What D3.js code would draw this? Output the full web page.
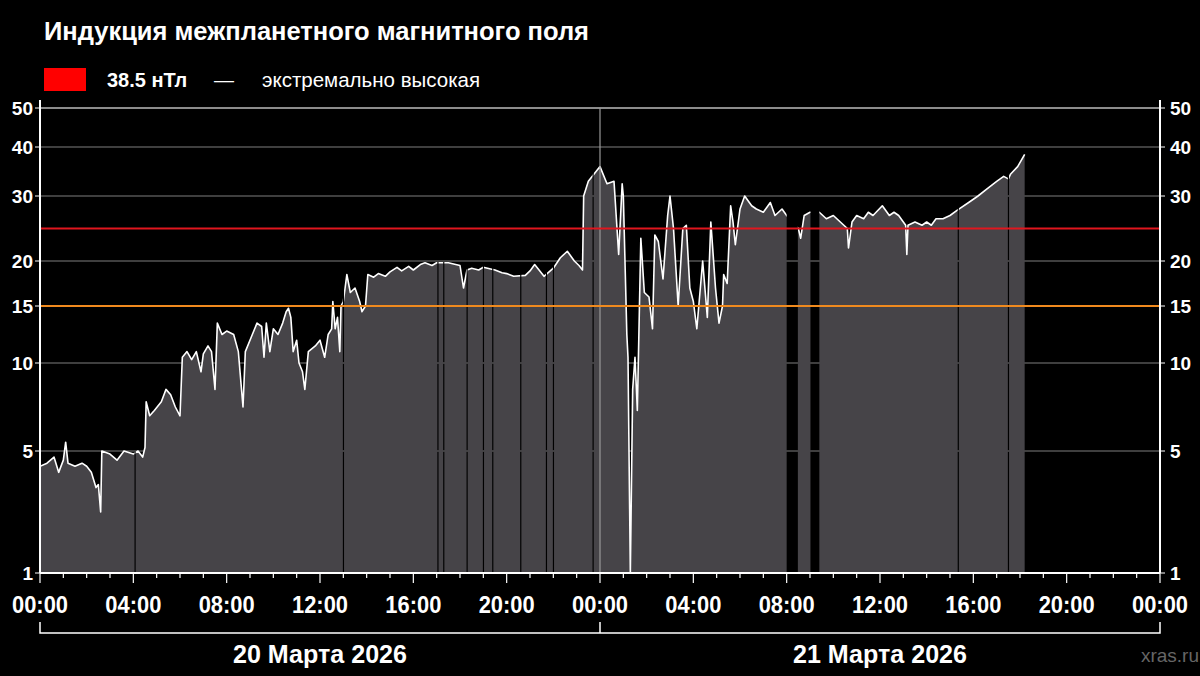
<!DOCTYPE html>
<html><head><meta charset="utf-8">
<script src="https://cdn.jsdelivr.net/npm/d3@7"></script>
<style>body{margin:0;background:#000;}svg{display:block}</style>
</head><body><svg id="c" width="1200" height="676"></svg>
<script>
// [hour since 20 March 00:00, nT]
const day1 = [[0,4.5],[0.3,4.6],[0.6,4.8],[0.8,4.3],[1.0,4.7],[1.1,5.5],[1.2,4.6],[1.5,4.5],[1.8,4.6],[2.0,4.5],[2.2,4.3],[2.4,3.8],[2.5,3.9],[2.6,3.0],[2.65,5.0],[3.0,4.9],[3.3,4.7],[3.6,5.0],[4.0,4.9],[4.2,5.0],[4.4,4.8],[4.5,5.2],[4.55,7.8],[4.7,7.0],[4.9,7.3],[5.2,7.8],[5.4,8.5],[5.6,8.2],[5.8,7.5],[6.0,7.0],[6.1,10.5],[6.3,11.0],[6.5,10.3],[6.7,11.0],[6.9,9.5],[7.0,10.8],[7.2,11.5],[7.35,11.0],[7.5,8.5],[7.6,13.5],[7.8,12.5],[8.0,12.8],[8.3,12.5],[8.5,11.0],[8.7,7.5],[8.8,11.0],[9.1,12.5],[9.3,13.5],[9.5,13.2],[9.6,10.5],[9.7,13.5],[9.85,11.0],[10.0,13.0],[10.2,12.5],[10.4,13.5],[10.55,14.5],[10.65,14.8],[10.75,14.0],[10.85,11.0],[11.0,12.0],[11.1,10.0],[11.25,9.5],[11.35,8.5],[11.5,11.0],[11.8,11.5],[12.0,12.0],[12.2,10.5],[12.35,12.5],[12.5,13.0],[12.55,15.5],[12.65,13.0],[12.75,14.0],[12.85,11.0],[12.9,15.0],[13.0,15.5],[13.15,18.5],[13.3,16.5],[13.5,17.0],[13.7,15.5],[13.8,14.5],[13.95,15.0],[14.05,18.5],[14.3,18.2],[14.5,18.6],[14.8,18.3],[15.0,18.8],[15.3,19.3],[15.5,18.9],[15.8,19.4],[16.0,19.0],[16.3,19.6],[16.5,19.8],[16.8,19.5],[17.0,19.8],[17.5,19.8],[18.0,19.5],[18.15,17.0],[18.3,19.0],[18.5,19.2],[18.8,19.0],[19.0,19.3],[19.5,19.0],[19.8,18.7],[20.0,18.6],[20.3,18.3],[20.8,18.4],[21.0,18.9],[21.2,19.6],[21.6,18.3],[22.0,19.2],[22.3,20.5],[22.6,21.5],[22.9,20.0],[23.1,19.5],[23.25,19.0]];
const day2 = [[23.3,30.0],[23.5,33.0],[24.0,36.0],[24.3,32.5],[24.6,33.0],[24.8,21.0],[24.95,32.5],[25.0,30.0],[25.1,17.0],[25.15,12.5],[25.2,10.5],[25.3,1.0],[25.4,8.5],[25.5,10.5],[25.6,7.3],[25.75,23.5],[25.9,16.5],[26.1,16.0],[26.25,13.0],[26.35,24.0],[26.5,23.0],[26.7,18.0],[26.9,27.0],[27.0,30.0],[27.15,25.0],[27.35,15.0],[27.55,25.0],[27.7,25.5],[27.85,17.0],[28.0,15.5],[28.15,13.0],[28.4,20.0],[28.6,14.0],[28.75,26.0],[28.95,17.0],[29.1,13.5],[29.25,15.0],[29.3,18.5],[29.45,17.5],[29.6,28.5],[29.7,26.0],[29.8,22.5],[30.0,28.0],[30.2,30.0],[30.5,28.5],[30.7,28.0],[31.0,27.5],[31.3,29.0],[31.5,27.0],[31.8,28.0],[32.0,27.0],[32.5,25.0],[32.6,23.5],[32.75,27.0],[33.0,27.5],[33.4,27.5],[33.7,26.5],[34.0,27.0],[34.3,26.0],[34.6,25.0],[34.65,22.0],[34.8,26.0],[35.0,27.0],[35.3,26.5],[35.5,27.5],[35.7,27.0],[36.1,28.5],[36.4,27.0],[36.6,27.5],[36.8,27.0],[37.1,25.5],[37.15,21.0],[37.2,25.5],[37.5,26.0],[37.8,25.5],[38.0,26.0],[38.2,25.5],[38.4,26.5],[38.7,26.5],[39.0,27.0],[39.3,27.8],[39.8,29.0],[40.2,30.0],[40.6,31.5],[41.0,33.0],[41.3,34.0],[41.5,33.5],[41.6,34.5],[41.9,36.0],[42.2,38.5]];
const gaps = [[4.05,4.1],[12.98,13.03],[17.03,17.08],[17.28,17.33],[18.28,18.33],[18.98,19.03],[19.38,19.43],[20.58,20.63],[21.68,21.73],[21.98,22.03],[23.68,23.73],[32.0,32.48],[33.02,33.4],[39.33,39.38],[41.48,41.53]];
const yTicks = [1,5,10,15,20,30,40,50];
const yPix = [573,451,363,306,261,196,147,108];
const gridVals = [5,10,20,30,40,50];
const xTickLabels = ["00:00","04:00","08:00","12:00","16:00","20:00","00:00","04:00","08:00","12:00","16:00","20:00","00:00"];
const dayLabels = ["20 Марта 2026","21 Марта 2026"];
const thresholds = [{v:25,c:"#e0161e"},{v:15,c:"#f08a1e"}];

const svg = d3.select("#c");
const L=40,R=1160,T=108,B=573;
const x = d3.scaleLinear().domain([0,48]).range([L,R]);
const y = d3.scaleLinear().domain(yTicks).range(yPix);
const data = day1.concat(day2).map(d=>({h:d[0],v:d[1]}));

svg.selectAll(".g").data(gridVals).enter().append("line")
  .attr("x1",L).attr("x2",R).attr("y1",d=>y(d)).attr("y2",d=>y(d))
  .attr("stroke",d=>d===50?"#bbb":"#555").attr("stroke-width",1.5);

const segs=[];let s=0;
gaps.forEach(g=>{segs.push([s,g[0]]);s=g[1];});segs.push([s,48]);
const clip=svg.append("clipPath").attr("id","cl");
segs.forEach(sg=>clip.append("rect").attr("x",x(sg[0])).attr("width",x(sg[1])-x(sg[0])).attr("y",0).attr("height",676));
const gp=svg.append("g").attr("clip-path","url(#cl)");
gp.append("path").datum(data).attr("fill","#464448")
  .attr("d",d3.area().x(d=>x(d.h)).y0(B).y1(d=>y(d.v)));
gp.append("path").datum(data).attr("fill","none").attr("stroke","#fff").attr("stroke-width",1.6)
  .attr("stroke-linejoin","round").attr("d",d3.line().x(d=>x(d.h)).y(d=>y(d.v)));

svg.append("line").attr("x1",x(24)).attr("x2",x(24)).attr("y1",T).attr("y2",B).attr("stroke","#999").attr("stroke-width",1.2);
thresholds.forEach(t=>svg.append("line").attr("x1",L).attr("x2",R).attr("y1",y(t.v)).attr("y2",y(t.v)).attr("stroke",t.c).attr("stroke-width",1.8));

const fontB="'Liberation Sans',Arial,sans-serif";
svg.append("line").attr("x1",L).attr("x2",L).attr("y1",T-8).attr("y2",B).attr("stroke","#fff").attr("stroke-width",2);
svg.append("line").attr("x1",R).attr("x2",R).attr("y1",T-8).attr("y2",B).attr("stroke","#fff").attr("stroke-width",2);
svg.append("line").attr("x1",L).attr("x2",R).attr("y1",B).attr("y2",B).attr("stroke","#fff").attr("stroke-width",2);
yTicks.forEach(v=>{
  svg.append("line").attr("x1",L-5).attr("x2",L).attr("y1",y(v)).attr("y2",y(v)).attr("stroke","#fff");
  svg.append("line").attr("x1",R).attr("x2",R+5).attr("y1",y(v)).attr("y2",y(v)).attr("stroke","#fff");
  svg.append("text").attr("x",L-7).attr("y",y(v)+7).attr("text-anchor","end").attr("fill","#fff")
    .attr("font-family",fontB).attr("font-weight","bold").attr("font-size",19).text(v);
  svg.append("text").attr("x",R+10).attr("y",y(v)+7).attr("fill","#fff")
    .attr("font-family",fontB).attr("font-weight","bold").attr("font-size",19).text(v);
});
d3.range(0,49).forEach(h=>{
  svg.append("line").attr("x1",x(h)).attr("x2",x(h)).attr("y1",B).attr("y2",B+(h%4===0?10:5)).attr("stroke","#fff").attr("stroke-width",1.2);
});
xTickLabels.forEach((t,i)=>svg.append("text").attr("x",x(i*4)).attr("y",613).attr("text-anchor","middle")
  .attr("fill","#fff").attr("font-family",fontB).attr("font-weight","bold").attr("font-size",23)
  .attr("textLength",56).attr("lengthAdjust","spacingAndGlyphs").text(t));
svg.append("path").attr("d",`M${x(0)},622V633H${x(48)}V622M${x(24)},622V633`).attr("fill","none").attr("stroke","#fff").attr("stroke-width",1.5);
dayLabels.forEach((t,i)=>svg.append("text").attr("x",x(12+24*i)).attr("y",663).attr("text-anchor","middle")
  .attr("fill","#fff").attr("font-family",fontB).attr("font-weight","bold").attr("font-size",25)
  .attr("textLength",174).attr("lengthAdjust","spacingAndGlyphs").text(t));
svg.append("text").attr("x",1199).attr("y",662).attr("text-anchor","end").attr("fill","#666").attr("font-family",fontB).attr("font-size",19).text("xras.ru");

svg.append("text").attr("x",44).attr("y",40).attr("fill","#fff").attr("font-family",fontB).attr("font-weight","bold").attr("font-size",25.5).text("Индукция межпланетного магнитного поля");
svg.append("rect").attr("x",44).attr("y",68).attr("width",42).attr("height",23).attr("fill","#f00");
svg.append("text").attr("x",107).attr("y",87).attr("fill","#fff").attr("font-family",fontB).attr("font-weight","bold").attr("font-size",20).text("38.5 нТл");
svg.append("text").attr("x",214).attr("y",87).attr("fill","#fff").attr("font-family",fontB).attr("font-size",20).text("—");
svg.append("text").attr("x",262).attr("y",87).attr("fill","#fff").attr("font-family",fontB).attr("font-size",20.5).text("экстремально высокая");
</script></body></html>
